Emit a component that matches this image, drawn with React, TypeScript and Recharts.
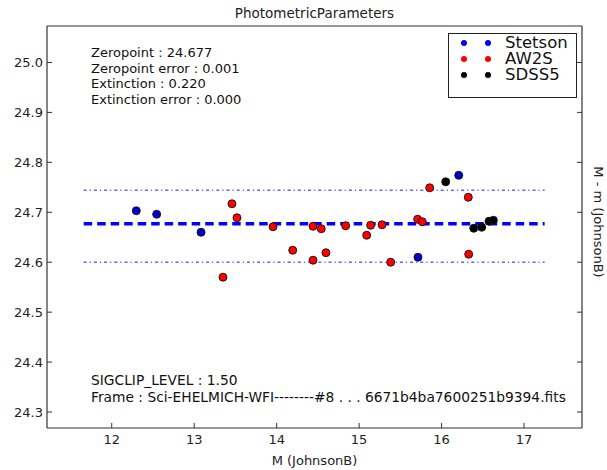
import React from 'react';
import { ScatterChart, Scatter, XAxis, YAxis, ReferenceLine, Legend } from 'recharts';

// ---- data ----
const xTicks = [12, 13, 14, 15, 16, 17];
const yTicks = [24.3, 24.4, 24.5, 24.6, 24.7, 24.8, 24.9, 25.0];
const xDomain: [number, number] = [11.215, 17.703];
const yDomain: [number, number] = [24.268, 25.073];

const stetsonM = [12.298, 12.545, 13.083, 15.714, 16.208];
const stetsonDm = [24.703, 24.696, 24.66, 24.61, 24.774];

const aw2sM = [13.349, 13.458, 13.519, 13.956, 14.195, 14.441, 14.441, 14.541, 14.598, 14.837, 15.092, 15.14, 15.278, 15.383, 15.71, 15.766, 15.856, 16.324, 16.329];
const aw2sDm = [24.57, 24.717, 24.689, 24.671, 24.624, 24.672, 24.604, 24.667, 24.619, 24.673, 24.654, 24.674, 24.675, 24.6, 24.686, 24.681, 24.749, 24.73, 24.616];

const sdss5M = [16.05, 16.39, 16.487, 16.575, 16.628];
const sdss5Dm = [24.761, 24.668, 24.67, 24.682, 24.684];

const zeropoint = 24.677;
const clipUpper = 24.744;
const clipLower = 24.6;
const lineStart = 11.66;
const lineEnd = 17.25;

const seriesNames = ['Stetson', 'AW2S', 'SDSS5'];
const seriesColors = ['#0000ff', '#ff0000', '#000000'];

const infoLines = ['Zeropoint : 24.677', 'Zeropoint error : 0.001', 'Extinction : 0.220', 'Extinction error : 0.000'];
const footLines = ['SIGCLIP_LEVEL : 1.50', 'Frame : Sci-EHELMICH-WFI--------#8 . . . 6671b4ba7600251b9394.fits'];

const toPoints = (xs: number[], ys: number[]) => xs.map((x, i) => ({ x, y: ys[i] }));
const stetsonData = toPoints(stetsonM, stetsonDm);
const aw2sData = toPoints(aw2sM, aw2sDm);
const sdss5Data = toPoints(sdss5M, sdss5Dm);

const FONT = '"DejaVu Sans", sans-serif';
const AXIS = '#333333';

const dot = (color: string) => (p: any) => (
  <circle cx={p.cx} cy={p.cy} r={4} fill={color} stroke="#111" strokeWidth={0.9} />
);

const BottomTick = (p: any) => (
  <g>
    <line x1={p.x} x2={p.x} y1={p.y} y2={p.y - 5} stroke={AXIS} strokeWidth={1} />
    <text x={p.x} y={p.y + 11} textAnchor="middle" dominantBaseline="central" fontFamily={FONT} fontSize={13} fill="#222">
      {p.payload.value}
    </text>
  </g>
);
const TopTick = (p: any) => (
  <line x1={p.x} x2={p.x} y1={p.y} y2={p.y + 5} stroke={AXIS} strokeWidth={1} />
);
const LeftTick = (p: any) => (
  <g>
    <line x1={p.x} x2={p.x + 5} y1={p.y} y2={p.y} stroke={AXIS} strokeWidth={1} />
    <text x={p.x - 4} y={p.y} textAnchor="end" dominantBaseline="central" fontFamily={FONT} fontSize={13} fill="#222">
      {p.payload.value.toFixed(1)}
    </text>
  </g>
);
const RightTick = (p: any) => (
  <line x1={p.x} x2={p.x - 5} y1={p.y} y2={p.y} stroke={AXIS} strokeWidth={1} />
);

const LegendBox = () => (
  <div
    style={{
      width: 127,
      height: 62,
      border: '1px solid #222',
      background: '#fff',
      fontFamily: FONT,
      fontSize: 16.5,
      color: '#111',
      boxSizing: 'content-box',
      paddingTop: 1,
    }}
  >
    {seriesNames.map((n, i) => (
      <div key={n} style={{ position: 'relative', height: 16, lineHeight: '16px' }}>
        <span style={{ position: 'absolute', left: 12, top: 5, width: 6, height: 6, borderRadius: 3, background: seriesColors[i] }} />
        <span style={{ position: 'absolute', left: 36, top: 5, width: 6, height: 6, borderRadius: 3, background: seriesColors[i] }} />
        <span style={{ position: 'absolute', left: 56, top: 0 }}>{n}</span>
      </div>
    ))}
  </div>
);

export default function App() {
  return (
    <div style={{ position: 'absolute', left: 0, top: 0, width: 607, height: 470, background: '#fff', fontFamily: FONT }}>
      <ScatterChart width={607} height={470} margin={{ top: 25, right: 24, bottom: 41, left: 46 }}>
        <XAxis
          dataKey="x"
          type="number"
          domain={xDomain}
          ticks={xTicks}
          interval={0}
          height={1}
          tickSize={0}
          tickMargin={0}
          tick={BottomTick}
          axisLine={{ stroke: AXIS, strokeWidth: 1.2 }}
          allowDataOverflow
        />
        <XAxis
          xAxisId="top"
          orientation="top"
          type="number"
          domain={xDomain}
          ticks={xTicks}
          interval={0}
          height={1}
          tickSize={0}
          tickMargin={0}
          tick={TopTick}
          axisLine={{ stroke: AXIS, strokeWidth: 1.2 }}
          allowDataOverflow
        />
        <YAxis
          dataKey="y"
          type="number"
          domain={yDomain}
          ticks={yTicks}
          interval={0}
          width={1}
          tickSize={0}
          tickMargin={0}
          tick={LeftTick}
          axisLine={{ stroke: AXIS, strokeWidth: 1.2 }}
          allowDataOverflow
        />
        <YAxis
          yAxisId="right"
          orientation="right"
          type="number"
          domain={yDomain}
          ticks={yTicks}
          interval={0}
          width={1}
          tickSize={0}
          tickMargin={0}
          tick={RightTick}
          axisLine={{ stroke: AXIS, strokeWidth: 1.2 }}
          allowDataOverflow
        />
        <ReferenceLine
          segment={[{ x: lineStart, y: clipUpper }, { x: lineEnd, y: clipUpper }]}
          stroke="#3b3bff"
          strokeWidth={1.6}
          strokeDasharray="3 3 1.2 3"
          strokeOpacity={0.8}
        />
        <ReferenceLine
          segment={[{ x: lineStart, y: clipLower }, { x: lineEnd, y: clipLower }]}
          stroke="#3b3bff"
          strokeWidth={1.6}
          strokeDasharray="3 3 1.2 3"
          strokeOpacity={0.8}
        />
        <ReferenceLine
          segment={[{ x: lineStart, y: zeropoint }, { x: lineEnd, y: zeropoint }]}
          stroke="#0000ff"
          strokeWidth={3.5}
          strokeDasharray="8.5 5"
        />
        <Scatter name="Stetson" data={stetsonData} fill="#0000ff" shape={dot('#0000cc')} isAnimationActive={false} />
        <Scatter name="AW2S" data={aw2sData} fill="#ff0000" shape={dot('#ff0000')} isAnimationActive={false} />
        <Scatter name="SDSS5" data={sdss5Data} fill="#000000" shape={dot('#000000')} isAnimationActive={false} />
        <Legend
          layout="horizontal"
          verticalAlign="middle"
          align="center"
          content={LegendBox}
          wrapperStyle={{ position: 'absolute', left: 448, top: 33, width: 129, height: 64 }}
        />
      </ScatterChart>

      <div style={{ position: 'absolute', left: 0, width: 629, top: 5, textAlign: 'center', fontSize: 13.5, color: '#222', lineHeight: '16px' }}>
        PhotometricParameters
      </div>
      <div style={{ position: 'absolute', left: 91, top: 45, fontSize: 13, color: '#111', lineHeight: '15.5px', whiteSpace: 'pre' }}>
        {infoLines.map((l) => (
          <div key={l}>{l}</div>
        ))}
      </div>
      <div style={{ position: 'absolute', left: 91, top: 372, fontSize: 13.8, color: '#111', lineHeight: '17px', whiteSpace: 'pre' }}>
        {footLines.map((l) => (
          <div key={l}>{l}</div>
        ))}
      </div>
      <div style={{ position: 'absolute', left: 0, width: 629, top: 453, textAlign: 'center', fontSize: 13, color: '#222', lineHeight: '16px' }}>
        M (JohnsonB)
      </div>
      <div
        style={{
          position: 'absolute',
          left: 598,
          top: 222,
          fontSize: 13,
          color: '#222',
          lineHeight: '16px',
          whiteSpace: 'nowrap',
          transform: 'translate(-50%, -50%) rotate(90deg)',
        }}
      >
        M - m (JohnsonB)
      </div>
    </div>
  );
}
